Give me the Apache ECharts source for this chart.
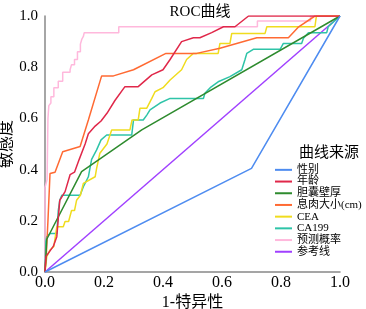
<!DOCTYPE html>
<html>
<head>
<meta charset="utf-8">
<script src="https://cdn.jsdelivr.net/npm/echarts@6/dist/echarts.min.js"></script>
<style>
  html,body{margin:0;padding:0;background:#fff;}
  #main{width:366px;height:309px;}
</style>
</head>
<body>
<div id="main"></div>
<script>
  // 各曲线的点 [1-特异性, 敏感度]
  const xTicks = [0, 0.2, 0.4, 0.6, 0.8, 1.0]
  const seriesNames = ['性别','年龄','胆囊壁厚','息肉大小(cm)','CEA','CA199','预测概率','参考线']
  const seriesColors = ['#4e8cf0','#e0284a','#2e8b2e','#ff6a33','#f0dc1e','#2ec4a8','#ffb8dc','#a040ff']

  const sexData = [[0,0],[0.70,0.405],[1,1]]
  const ageData = [[0,0],[0.003,0.06],[0.028,0.10],[0.04,0.138],[0.05,0.28],[0.068,0.314],[0.085,0.38],[0.10,0.39],
    [0.116,0.44],[0.136,0.50],[0.147,0.54],[0.17,0.57],[0.19,0.59],[0.21,0.62],[0.237,0.67],[0.271,0.724],
    [0.316,0.724],[0.362,0.77],[0.40,0.79],[0.424,0.83],[0.463,0.90],[0.503,0.915],[0.525,0.915],[0.565,0.935],
    [0.605,0.958],[0.644,0.958],[0.69,1],[1,1]]
  const wallData = [[0,0],[0.003,0.06],[0.006,0.128],[0.124,0.392],[0.328,0.555],[1,1]]
  const polypData = [[0,0],[0.005,0.08],[0.01,0.2],[0.017,0.385],[0.034,0.39],[0.06,0.47],[0.119,0.49],[0.147,0.594],
    [0.192,0.766],[0.232,0.766],[0.30,0.79],[0.41,0.854],[0.514,0.854],[0.593,0.874],[0.718,0.915],[0.825,0.915],
    [0.86,0.958],[0.915,1],[1,1]]
  const ceaData = [[0,0],[0.006,0.06],[0.017,0.086],[0.03,0.1],[0.04,0.177],[0.062,0.177],[0.068,0.197],[0.08,0.197],
    [0.09,0.24],[0.1,0.24],[0.107,0.28],[0.12,0.3],[0.13,0.346],[0.17,0.372],[0.175,0.405],[0.186,0.464],
    [0.21,0.5],[0.226,0.555],[0.288,0.555],[0.295,0.594],[0.316,0.594],[0.322,0.64],[0.345,0.64],[0.362,0.678],
    [0.373,0.704],[0.40,0.72],[0.424,0.75],[0.463,0.79],[0.48,0.83],[0.503,0.854],[0.587,0.854],[0.593,0.893],
    [0.627,0.893],[0.633,0.932],[0.746,0.932],[0.752,0.958],[0.915,0.958],[0.92,1],[1,1]]
  const ca199Data = [[0,0],[0.003,0.12],[0.006,0.138],[0.017,0.15],[0.04,0.15],[0.045,0.24],[0.05,0.28],[0.057,0.30],
    [0.119,0.30],[0.13,0.333],[0.147,0.372],[0.158,0.44],[0.175,0.477],[0.19,0.516],[0.209,0.535],[0.294,0.535],
    [0.3,0.594],[0.333,0.594],[0.345,0.613],[0.356,0.633],[0.39,0.66],[0.424,0.678],[0.537,0.678],[0.542,0.698],
    [0.56,0.72],[0.587,0.743],[0.627,0.763],[0.667,0.79],[0.678,0.83],[0.684,0.854],[0.706,0.87],[0.797,0.87],
    [0.808,0.893],[0.87,0.893],[0.876,0.913],[0.893,0.935],[0.955,0.935],[0.96,0.958],[1,1]]
  const probData = [[0,0],[0,0.33],[0.007,0.36],[0.01,0.6],[0.013,0.65],[0.02,0.66],[0.02,0.685],[0.03,0.685],
    [0.03,0.72],[0.045,0.72],[0.045,0.745],[0.06,0.745],[0.06,0.78],[0.085,0.78],[0.085,0.79],[0.09,0.81],
    [0.1,0.81],[0.1,0.83],[0.11,0.83],[0.11,0.86],[0.12,0.86],[0.12,0.89],[0.125,0.91],[0.13,0.92],[0.133,0.935],
    [0.25,0.935],[0.25,0.958],[0.72,0.958],[0.72,0.98],[0.9,0.98],[0.9,1],[1,1]]
  const refData = [[0,0],[1,1]]

  const allData = [sexData,ageData,wallData,polypData,ceaData,ca199Data,probData,refData]

  const serifFont = '"Liberation Serif","Noto Sans CJK SC",serif'

  const chart = echarts.init(document.getElementById('main'))
  const option = {
    backgroundColor: '#fff',
    animation: false,
    title: [{
      text: 'ROC曲线',
      left: 195, top: 0, textAlign: 'center',
      textStyle: {fontFamily: serifFont, fontSize: 15, fontWeight: 'normal', color: '#000'}
    },{
      text: '曲线来源',
      left: 324, top: 141, textAlign: 'center',
      textStyle: {fontFamily: serifFont, fontSize: 15, fontWeight: 'normal', color: '#000'}
    }],
    grid: {left: 45, right: 26, top: 16, bottom: 37, containLabel: false, outerBoundsMode: 'none'},
    legend: {
      orient: 'vertical',
      left: 275, top: 164, padding: 0,
      itemWidth: 17, itemHeight: 2, itemGap: 0,
      icon: 'rect',
      textStyle: {fontFamily: serifFont, fontSize: 11, color: '#000', lineHeight: 11.7},
      data: seriesNames
    },
    xAxis: {
      type: 'value', min: 0, max: 1, interval: 0.2,
      name: '1-特异性', nameLocation: 'middle', nameGap: 23, nameMoveOverlap: false,
      nameTextStyle: {fontFamily: serifFont, fontSize: 16, color: '#000'},
      axisLine: {show: true, lineStyle: {color: '#888', width: 1.5}},
      axisTick: {show: false},
      splitLine: {show: false},
      axisLabel: {fontFamily: serifFont, fontSize: 16, color: '#000', margin: 3,
        formatter: v => v.toFixed(1)}
    },
    yAxis: {
      type: 'value', min: 0, max: 1, interval: 0.2,
      name: '敏感度', nameLocation: 'middle', nameGap: 30, nameMoveOverlap: false,
      nameTextStyle: {fontFamily: serifFont, fontSize: 16, color: '#000'},
      axisLine: {show: true, lineStyle: {color: '#888', width: 1.5}},
      axisTick: {show: false},
      splitLine: {show: false},
      axisLabel: {fontFamily: serifFont, fontSize: 15, color: '#000', margin: 7,
        formatter: v => v.toFixed(1)}
    },
    series: seriesNames.map((name, i) => ({
      name: name,
      type: 'line',
      data: allData[i],
      showSymbol: false,
      symbol: 'none',
      color: seriesColors[i],
      lineStyle: {color: seriesColors[i], width: 1.5},
      z: 10 - i
    }))
  }
  chart.setOption(option)
</script>
</body>
</html>
